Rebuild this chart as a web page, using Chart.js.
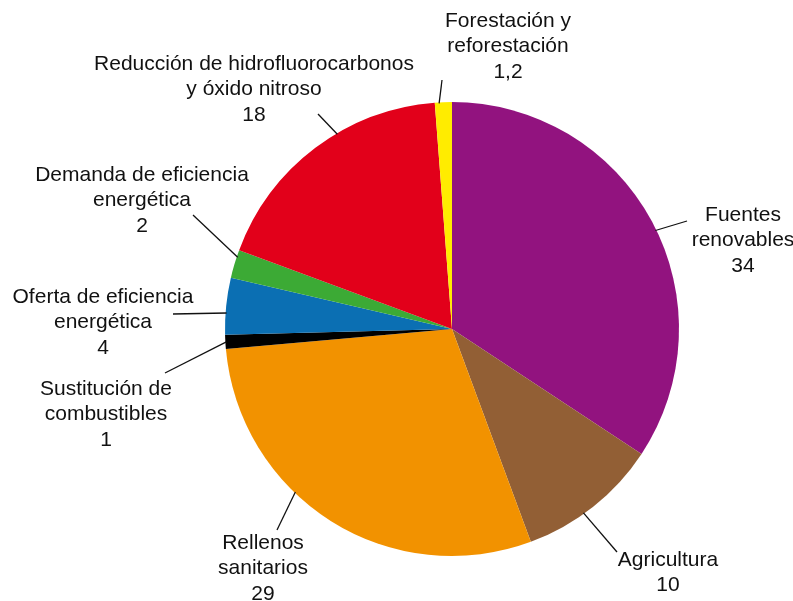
<!DOCTYPE html>
<html lang="es">
<head>
<meta charset="utf-8">
<title>Distribución por tipo de proyecto</title>
<script src="https://cdn.jsdelivr.net/npm/chart.js@4/dist/chart.umd.min.js"></script>
<style>
  html, body { margin: 0; padding: 0; background: #ffffff; }
  #wrap { width: 793px; height: 601px; position: relative; }
  canvas { display: block; }
</style>
</head>
<body>
<div id="wrap"><canvas id="pie" width="793" height="601"></canvas></div>
<script>
// Categories (each label split into its printed lines) and their values
const categories = [
  ["Fuentes", "renovables"],
  ["Agricultura"],
  ["Rellenos", "sanitarios"],
  ["Sustitución de", "combustibles"],
  ["Oferta de eficiencia", "energética"],
  ["Demanda de eficiencia", "energética"],
  ["Reducción de hidrofluorocarbonos", "y óxido nitroso"],
  ["Forestación y", "reforestación"]
];
const values = [34, 10, 29, 1, 4, 2, 18, 1.2];
const colors = ["#92137F", "#925F35", "#F29200", "#000000", "#0B6FB3", "#3CAA35", "#E2001A", "#FFEC00"];

// Placement of each label around the pie, in pixels from the pie centre:
// at   = where along the slice the leader line leaves the edge (0..1)
// end  = outer end of the leader line
// text = centre of the first text line
const labelPlacement = [
  { at: 0.52, end: [235, -108], text: [291, -114] },
  { at: 0.58, end: [165, 223],  text: [216, 231] },
  { at: 0.61, end: [-175, 201], text: [-189, 214] },
  { at: 0.50, end: [-287, 44],  text: [-346, 60] },
  { at: 0.38, end: [-279, -15], text: [-349, -32] },
  { at: 0.75, end: [-259, -114], text: [-310, -154] },
  { at: 0.60, end: [-134, -215], text: [-198, -265] },
  { at: 0.25, end: [-10, -249], text: [56, -308] }
];

const fmt = v => String(v).replace(".", ",");

const outsideLabels = {
  id: "outsideLabels",
  afterDatasetsDraw(chart) {
    const ctx = chart.ctx;
    const arcs = chart.getDatasetMeta(0).data;
    ctx.save();
    ctx.font = "21px 'Liberation Sans', Arial, sans-serif";
    ctx.fillStyle = "#111111";
    ctx.strokeStyle = "#111111";
    ctx.lineWidth = 1.3;
    ctx.textAlign = "center";
    ctx.textBaseline = "middle";
    const lineH = 25.5;
    arcs.forEach((arc, i) => {
      const p = labelPlacement[i];
      const cx = arc.x, cy = arc.y, r = arc.outerRadius;
      const a = arc.startAngle + (arc.endAngle - arc.startAngle) * p.at;
      ctx.beginPath();
      ctx.moveTo(cx + (r - 1) * Math.cos(a), cy + (r - 1) * Math.sin(a));
      ctx.lineTo(cx + p.end[0], cy + p.end[1]);
      ctx.stroke();
      const lines = categories[i].concat([fmt(values[i])]);
      lines.forEach((t, k) => {
        ctx.fillText(t, cx + p.text[0], cy + p.text[1] + k * lineH);
      });
    });
    ctx.restore();
  }
};

new Chart(document.getElementById("pie"), {
  type: "pie",
  data: {
    labels: categories.map(c => c.join(" ")),
    datasets: [{
      data: values,
      backgroundColor: colors,
      borderWidth: 0
    }]
  },
  options: {
    responsive: false,
    animation: false,
    layout: { padding: { left: 225, right: 114, top: 102, bottom: 45 } },
    plugins: {
      legend: { display: false },
      tooltip: { enabled: false }
    }
  },
  plugins: [outsideLabels]
});
</script>
</body>
</html>
